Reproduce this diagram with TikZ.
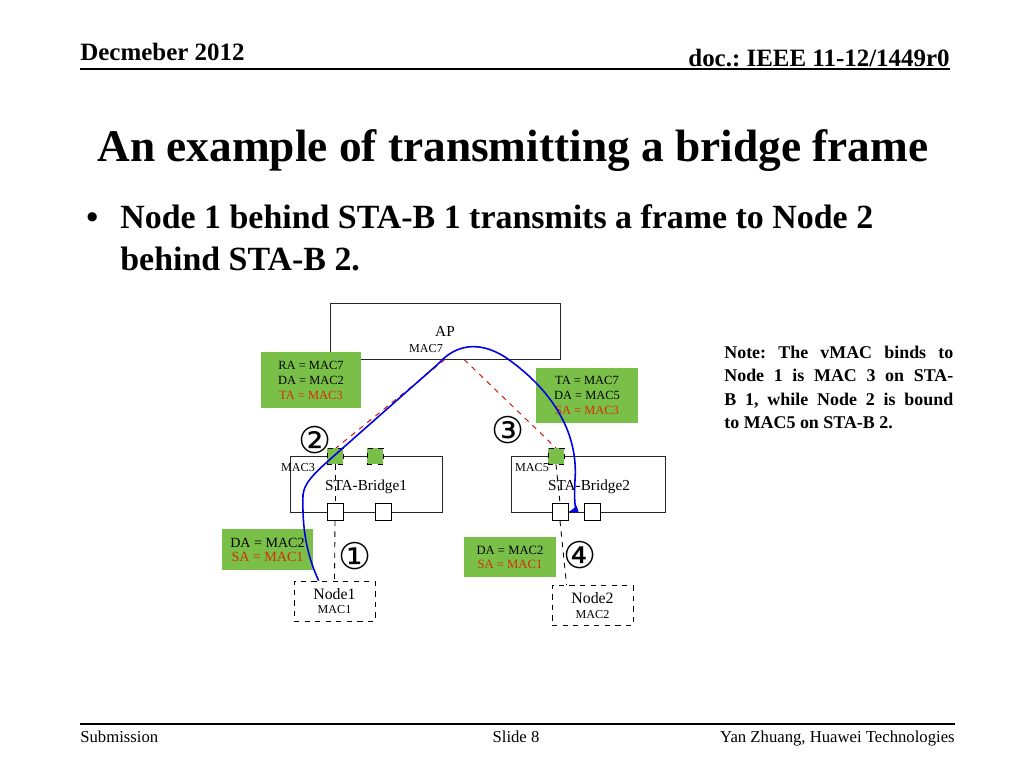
\documentclass[tikz,border=0pt]{standalone}
\usepackage{fontspec}
\setmainfont{Liberation Serif}
\newfontfamily\circfont{DejaVu Sans}
\usetikzlibrary{calc}
\definecolor{boxgreen}{RGB}{122,192,72}
\definecolor{addrred}{RGB}{214,44,10}

\begin{document}
\frenchspacing
\begin{tikzpicture}[x=0.02cm,y=-0.02cm,
  every node/.style={inner sep=0pt},
  greenbox/.style={fill=boxgreen,align=center},
  devbox/.style={draw=black!85,line width=0.5pt,font=\fontsize{8.7}{10}\selectfont},
  hostbox/.style={draw,dashed,line width=0.5pt,align=center,minimum width=1.62cm,minimum height=0.8cm,font=\fontsize{9}{9}\selectfont},
  vport/.style={draw,dashed,line width=0.5pt,fill=boxgreen,minimum size=0.32cm},
  port/.style={draw,line width=0.5pt,fill=white,minimum width=0.32cm,minimum height=0.34cm},
  mac/.style={font=\fontsize{6.9}{7}\selectfont},
  circnum/.style={font=\circfont\fontsize{21}{21}\selectfont},
  link/.style={dashed,line width=0.5pt},
  maplink/.style={dashed,draw=red!80!black,line width=0.5pt}]
  \fill[white] (0,0) rectangle (1024,768);
  \useasboundingbox (0,0) rectangle (1024,768);

  % header and footer
  \node[anchor=base west,font=\bfseries\fontsize{14.2}{16}\selectfont] (date) at (80,60) {Decmeber 2012};
  \node[anchor=base east,font=\bfseries\fontsize{14.2}{16}\selectfont] (docid) at (950,66) {doc.: IEEE 11-12/1449r0};
  \draw[line width=1pt] (80,69) -- (950,69);
  \draw[line width=1pt] (80,724) -- (955,724);
  \node[anchor=base west,font=\fontsize{9.5}{11}\selectfont] (submit) at (80,742) {Submission};
  \node[anchor=base,font=\fontsize{9.5}{11}\selectfont] (slide) at (516,742) {Slide 8};
  \node[anchor=base east,font=\fontsize{9.5}{11}\selectfont] (author) at (955,742) {Yan Zhuang, Huawei Technologies};

  % title and bullet
  \node[anchor=base west,font=\bfseries\fontsize{25.8}{30}\selectfont] (title) at (97,161) {An example of transmitting a bridge frame};
  \node[anchor=base west,font=\bfseries\fontsize{19.3}{23.8}\selectfont] (dot) at (86,228) {•};
  \node[anchor=base west,align=left,font=\bfseries\fontsize{19.3}{23.8}\selectfont] (bullet) at (120,270)
    {Node 1 behind STA-B 1 transmits a frame to Node 2\\behind STA-B 2.};

  % note
  \node[anchor=north west,text width=4.58cm,align=justify,font=\bfseries\fontsize{10.2}{13.2}\selectfont] (note) at (724,346)
    {Note: The vMAC binds to\linebreak Node 1 is MAC 3 on STA-\linebreak B 1, while Node 2 is bound\linebreak to MAC5 on STA-B 2.};

  % devices
  \node[devbox,minimum width=4.6cm,minimum height=1.12cm] (ap) at (445,331) {AP};
  \node[mac] (mac7) at (426,349) {MAC7};
  \node[devbox,minimum width=3.04cm,minimum height=1.12cm] (bridge1) at (366,484) {};
  \node[devbox,minimum width=3.08cm,minimum height=1.12cm] (bridge2) at (588,484) {};
  \node[font=\fontsize{8.7}{10}\selectfont] (name1) at (366,487) {STA-Bridge1};
  \node[font=\fontsize{8.7}{10}\selectfont] (name2) at (589,487) {STA-Bridge2};
  \node[mac] (mac3) at (298,468) {MAC3};
  \node[mac] (mac5) at (532,468) {MAC5};
  \node[hostbox] (node1) at (334.5,601) {Node1\\[-1pt]{\fontsize{6.9}{7}\selectfont MAC1}};
  \node[hostbox] (node2) at (592.5,605.5) {Node2\\[0pt]{\fontsize{6.9}{7}\selectfont MAC2}};

  % mappings
  \draw[maplink] (ap.south) -- (336,448) coordinate (vtop1);
  \draw[maplink] ($(ap.south)+(19,0)$) -- (556,448) coordinate (vtop3);

  % ports
  \node[vport] (vport1) at (335,456) {};
  \node[vport] (vport2) at (375,456) {};
  \node[vport] (vport3) at (556,456) {};
  \node[port] (port1) at (335,512) {};
  \node[port] (port2) at (383,512) {};
  \node[port] (port3) at (560,512) {};
  \node[port] (port4) at (592,512) {};
  \draw[link] (vport1.south) -- (port1.north);
  \draw[link] (port1.south) -- (node1.north);
  \draw[link] (vport3.south) -- (port3.north);
  \draw[link] (port3.south) -- ($(node2.north west)+(15,0)$);

  % frame headers
  \node[greenbox,minimum width=2cm,minimum height=1.12cm,font=\fontsize{7.1}{8.5}\selectfont] (hdr2) at (311,380)
    {RA = MAC7\\DA = MAC2\\\textcolor{addrred}{TA = MAC3}};
  \node[greenbox,minimum width=2.04cm,minimum height=1.1cm,font=\fontsize{7.1}{8.5}\selectfont] (hdr3) at (587,395.5)
    {TA = MAC7\\DA = MAC5\\\textcolor{addrred}{SA = MAC3}};
  \node[greenbox,minimum width=1.82cm,minimum height=0.82cm,font=\fontsize{8}{8}\selectfont] (hdr1) at (267.5,549.5)
    {DA = MAC2\\\textcolor{addrred}{SA = MAC1}};
  \node[greenbox,minimum width=1.84cm,minimum height=0.8cm,font=\fontsize{7.2}{8}\selectfont] (hdr4) at (510,557)
    {DA = MAC2\\\textcolor{addrred}{SA = MAC1}};

  % steps
  \node[circnum] (step1) at (355,556) {①};
  \node[circnum] (step2) at (315,440) {②};
  \node[circnum] (step3) at (508,430) {③};
  \node[circnum] (step4) at (580,555) {④};

  % frame path
  \draw[blue!90!black,line width=0.9pt,-latex] ($(node1.north west)+(25,0)$)
    .. controls (307,555) and (302,530) .. (303,495)
    .. controls (304,483) and (315,473) .. (327,462)
    -- (438,364)
    .. controls (455,345) and (478,340) .. (505,357)
    .. controls (560,395) and (578,440) .. (575,480)
    .. controls (574,500) and (575,510) .. (port3.east);
\end{tikzpicture}
\end{document}
